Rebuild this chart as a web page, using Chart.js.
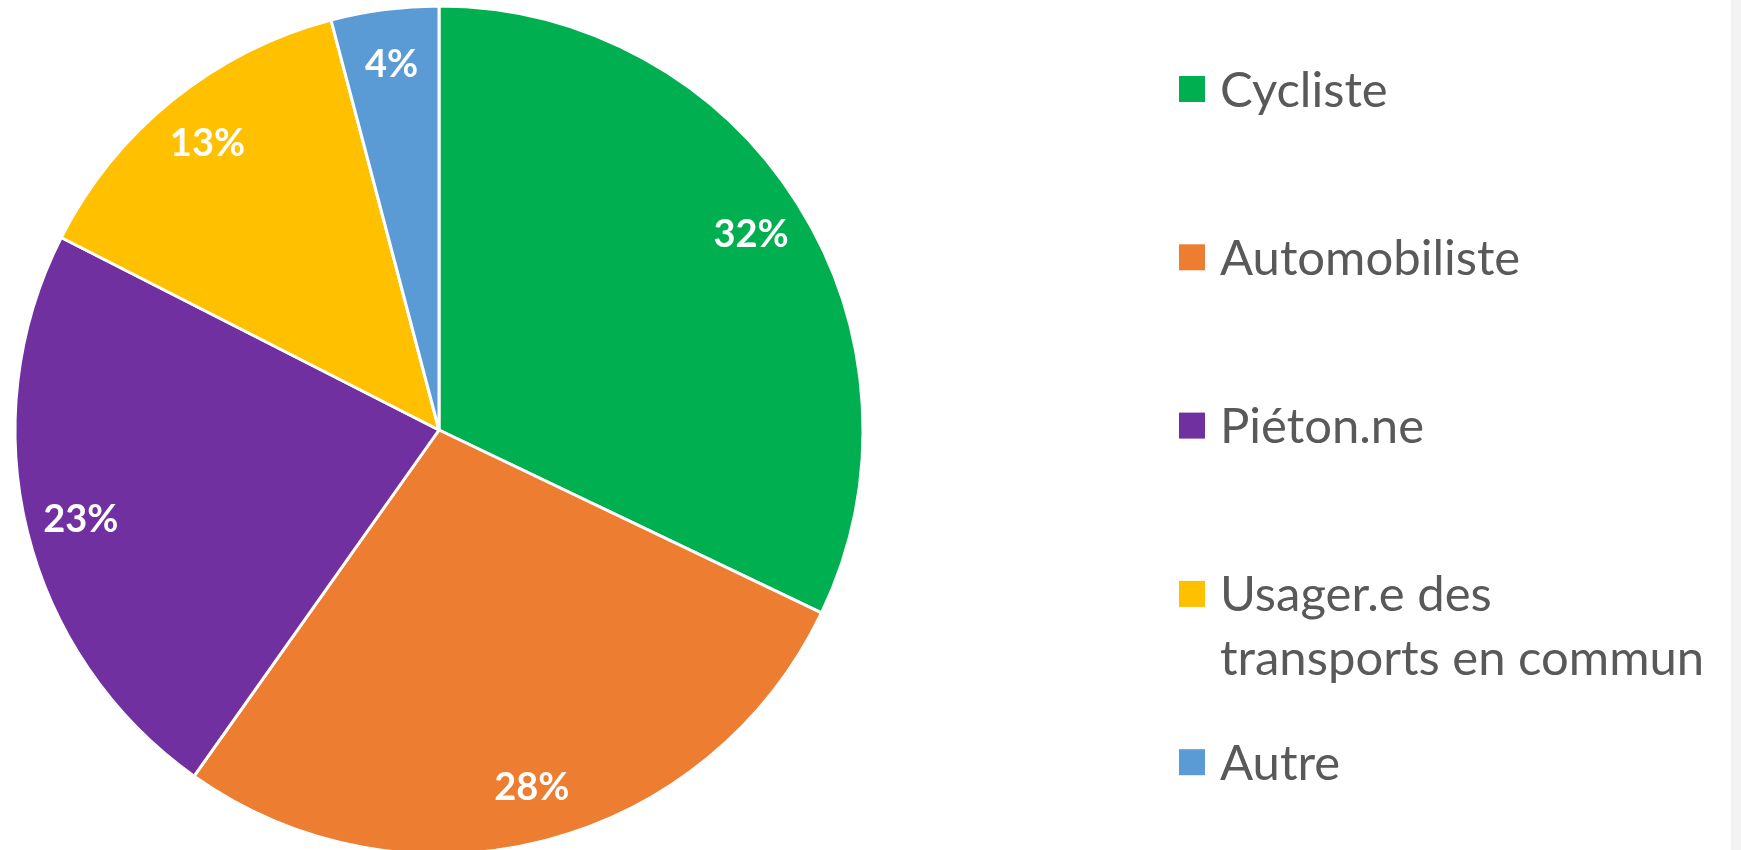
<!DOCTYPE html>
<html>
<head>
<meta charset="utf-8">
<script src="https://cdn.jsdelivr.net/npm/chart.js@4/dist/chart.umd.min.js"></script>
<style>
  html, body { margin: 0; padding: 0; background: #ffffff; overflow: hidden; }
  #wrap { position: absolute; left: 0; top: 0; width: 1741px; height: 860px; }
  #edge { position: absolute; left: 1731px; top: 0; width: 10px; height: 850px; background: #f3f3f3; }
</style>
</head>
<body>
<div id="wrap"><canvas id="c"></canvas></div>
<div id="edge"></div>
<script>
const categories = ['Cycliste', 'Automobiliste', 'Piéton.ne', 'Usager.e des transports en commun', 'Autre'];
const shares = [32.1, 27.7, 22.7, 13.4, 4.1];
const colors = ['#00B050', '#ED7D31', '#7030A0', '#FFC000', '#5B9BD5'];

const total = shares.reduce((a, b) => a + b, 0);

const pctLabels = {
  id: 'pctLabels',
  afterDatasetsDraw(chart) {
    const ctx = chart.ctx;
    const meta = chart.getDatasetMeta(0);
    ctx.save();
    ctx.fillStyle = '#ffffff';
    ctx.font = 'bold 38px Lato';
    ctx.textAlign = 'center';
    ctx.textBaseline = 'middle';
    meta.data.forEach((arc, i) => {
      const p = arc.getProps(['x', 'y', 'startAngle', 'endAngle', 'outerRadius'], true);
      const mid = (p.startAngle + p.endAngle) / 2;
      const r = p.outerRadius * 0.87;
      const txt = Math.round(shares[i] / total * 100) + '%';
      ctx.fillText(txt, p.x + Math.cos(mid) * r, p.y + Math.sin(mid) * r + 1);
    });
    ctx.restore();
  }
};

const sideLegend = {
  id: 'sideLegend',
  afterDraw(chart) {
    const ctx = chart.ctx;
    const labels = chart.data.labels;
    const bg = chart.data.datasets[0].backgroundColor;
    const boxX = 1179, box = 26, textX = 1220;
    const firstY = 89, step = 168.3, lineH = 64;
    const fontSize = 49;
    ctx.save();
    ctx.font = fontSize + 'px Lato';
    ctx.textAlign = 'left';
    ctx.textBaseline = 'alphabetic';
    const maxW = ctx.measureText('transports en commun').width + 4;
    const capHalf = fontSize * 0.717 / 2;
    labels.forEach((lab, i) => {
      const cy = firstY + i * step;
      ctx.fillStyle = bg[i];
      ctx.fillRect(boxX, cy - box / 2, box, box);
      const words = lab.split(' ');
      const lines = [];
      let cur = '';
      words.forEach(w => {
        const test = cur ? cur + ' ' + w : w;
        if (cur && ctx.measureText(test).width > maxW) { lines.push(cur); cur = w; }
        else cur = test;
      });
      if (cur) lines.push(cur);
      ctx.fillStyle = '#595959';
      lines.forEach((ln, k) => ctx.fillText(ln, textX, cy + capHalf + k * lineH));
    });
    ctx.restore();
  }
};

new Chart(document.getElementById('c'), {
  type: 'pie',
  data: {
    labels: categories,
    datasets: [{
      data: shares,
      backgroundColor: colors,
      borderColor: '#ffffff',
      borderWidth: 3,
      hoverOffset: 0
    }]
  },
  options: {
    responsive: true,
    maintainAspectRatio: false,
    animation: false,
    events: [],
    radius: 424,
    layout: { padding: { left: 16, top: 7, right: 879, bottom: 7 } },
    plugins: {
      legend: { display: false },
      tooltip: { enabled: false }
    }
  },
  plugins: [pctLabels, sideLegend]
});
</script>
</body>
</html>
